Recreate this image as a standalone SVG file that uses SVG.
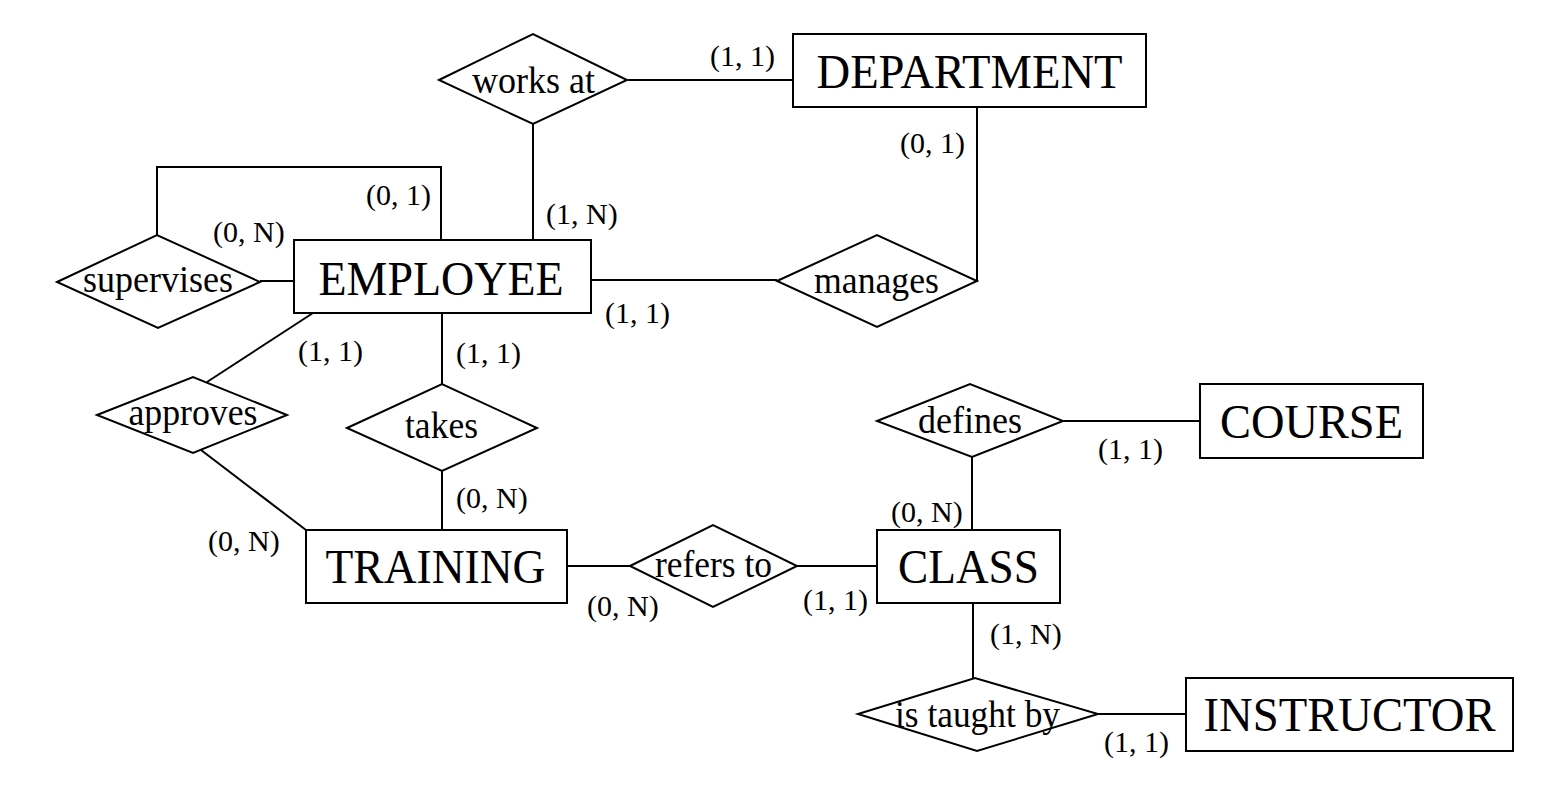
<svg xmlns="http://www.w3.org/2000/svg" width="1559" height="791" viewBox="0 0 1559 791">
<style>
  .bg { fill: #ffffff; }
  .ent rect, .rel polygon { fill: #ffffff; stroke: #000000; stroke-width: 2; }
  .conn line, .conn polyline { fill: none; stroke: #000000; stroke-width: 2; }
  text { font-family: "Liberation Serif", "Times New Roman", serif; fill: #000000; }
  .et { font-size: 48px; text-anchor: middle; }
  .rt { font-size: 37px; text-anchor: middle; }
  .card { font-size: 30px; }
</style>
<rect class="bg" x="0" y="0" width="1559" height="791"/>

<g id="connectors" class="conn">
  <line x1="628" y1="80" x2="793" y2="80"/>
  <line x1="533" y1="124" x2="533" y2="240"/>
  <polyline points="977,107 977,282"/>
  <line x1="592" y1="280" x2="777" y2="280"/>
  <polyline points="157,236 157,167 441,167 441,240"/>
  <line x1="260" y1="281" x2="294" y2="281"/>
  <line x1="313" y1="313" x2="207" y2="382"/>
  <line x1="201" y1="450" x2="306" y2="530"/>
  <line x1="442" y1="313" x2="442" y2="384"/>
  <line x1="442" y1="471" x2="442" y2="530"/>
  <line x1="567" y1="566" x2="630" y2="566"/>
  <line x1="797" y1="566" x2="877" y2="566"/>
  <line x1="1063" y1="421" x2="1200" y2="421"/>
  <line x1="972" y1="457" x2="972" y2="530"/>
  <line x1="973" y1="603" x2="973" y2="679"/>
  <line x1="1098" y1="714" x2="1186" y2="714"/>
</g>

<g id="DEPARTMENT" class="ent">
  <rect x="793" y="34" width="353" height="73"/>
  <text class="et" x="969.5" y="88" textLength="306" lengthAdjust="spacingAndGlyphs">DEPARTMENT</text>
</g>
<g id="EMPLOYEE" class="ent">
  <rect x="294" y="240" width="297" height="73"/>
  <text class="et" x="441" y="295" textLength="245" lengthAdjust="spacingAndGlyphs">EMPLOYEE</text>
</g>
<g id="TRAINING" class="ent">
  <rect x="306" y="530" width="261" height="73"/>
  <text class="et" x="435.5" y="583" textLength="220" lengthAdjust="spacingAndGlyphs">TRAINING</text>
</g>
<g id="CLASS" class="ent">
  <rect x="877" y="530" width="183" height="73"/>
  <text class="et" x="968.5" y="583" textLength="141" lengthAdjust="spacingAndGlyphs">CLASS</text>
</g>
<g id="COURSE" class="ent">
  <rect x="1200" y="384" width="223" height="74"/>
  <text class="et" x="1311.5" y="438" textLength="183" lengthAdjust="spacingAndGlyphs">COURSE</text>
</g>
<g id="INSTRUCTOR" class="ent">
  <rect x="1186" y="678" width="327" height="73"/>
  <text class="et" x="1349.5" y="731" textLength="292" lengthAdjust="spacingAndGlyphs">INSTRUCTOR</text>
</g>

<g id="works_at" class="rel">
  <polygon points="439,80 533,34 627,80 533,124"/>
  <text class="rt" x="533.5" y="93" textLength="123" lengthAdjust="spacingAndGlyphs">works at</text>
</g>
<g id="supervises" class="rel">
  <polygon points="57,282 157,235 260,282 158,328"/>
  <text class="rt" x="158" y="292" textLength="150" lengthAdjust="spacingAndGlyphs">supervises</text>
</g>
<g id="manages" class="rel">
  <polygon points="777,281 877,235 977,281 877,327"/>
  <text class="rt" x="876.5" y="293" textLength="125" lengthAdjust="spacingAndGlyphs">manages</text>
</g>
<g id="approves" class="rel">
  <polygon points="97,415 193,377 287,415 193,453"/>
  <text class="rt" x="193" y="425" textLength="129" lengthAdjust="spacingAndGlyphs">approves</text>
</g>
<g id="takes" class="rel">
  <polygon points="347,428 442,384 537,428 442,471"/>
  <text class="rt" x="441.5" y="438" textLength="73" lengthAdjust="spacingAndGlyphs">takes</text>
</g>
<g id="defines" class="rel">
  <polygon points="877,421 970,384 1063,421 972,457"/>
  <text class="rt" x="970" y="433" textLength="104" lengthAdjust="spacingAndGlyphs">defines</text>
</g>
<g id="refers_to" class="rel">
  <polygon points="630,566 713,525 797,566 713,607"/>
  <text class="rt" x="713.5" y="577" textLength="117" lengthAdjust="spacingAndGlyphs">refers to</text>
</g>
<g id="is_taught_by" class="rel">
  <polygon points="858,714 975,678 1098,714 977,751"/>
  <text class="rt" x="977.5" y="727" textLength="165" lengthAdjust="spacingAndGlyphs">is taught by</text>
</g>

<g id="cardinalities" class="card">
  <text class="card" x="710" y="66">(1, 1)</text>
  <text class="card" x="900" y="153">(0, 1)</text>
  <text class="card" x="366" y="205">(0, 1)</text>
  <text class="card" x="546" y="224">(1, N)</text>
  <text class="card" x="213" y="242">(0, N)</text>
  <text class="card" x="605" y="323">(1, 1)</text>
  <text class="card" x="298" y="361">(1, 1)</text>
  <text class="card" x="456" y="363">(1, 1)</text>
  <text class="card" x="456" y="508">(0, N)</text>
  <text class="card" x="208" y="551">(0, N)</text>
  <text class="card" x="587" y="616">(0, N)</text>
  <text class="card" x="803" y="610">(1, 1)</text>
  <text class="card" x="891" y="522">(0, N)</text>
  <text class="card" x="1098" y="459">(1, 1)</text>
  <text class="card" x="990" y="644">(1, N)</text>
  <text class="card" x="1104" y="752">(1, 1)</text>
</g>
</svg>
